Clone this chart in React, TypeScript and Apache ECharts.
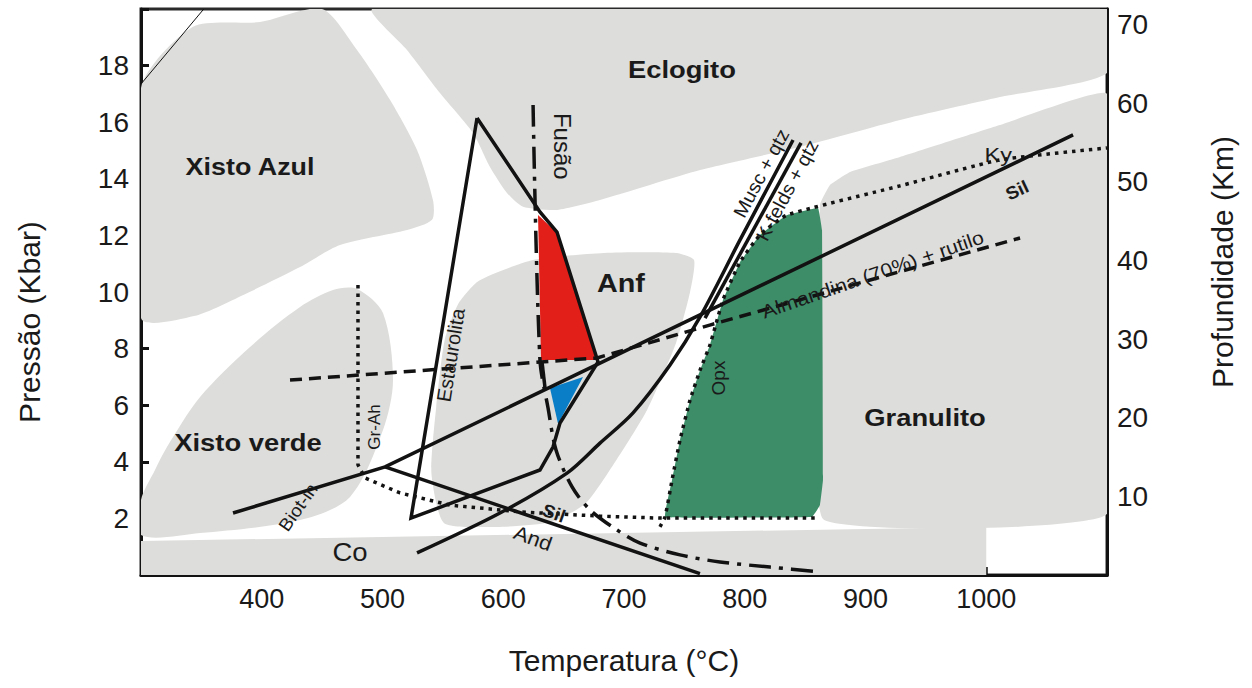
import React, { useEffect, useRef } from 'react';
import * as echarts from 'echarts';

type Pt = [number, number];

// Axis ranges
const T_MIN = 300, T_MAX = 1100, P_MAX = 20, KM_MAX = 72;

// Grey facies fields (T °C, P kbar)
const xistoAzulField: Pt[] = [
  [300, 17.21], [343.1, 19.37], [398.6, 19.54], [449.9, 20], [478.9, 18.55], [506.2, 16.79],
  [528.6, 15.02], [541.8, 13.25], [541.0, 12.55], [520.3, 12.19], [464.8, 11.66], [431.7, 10.88],
  [387.8, 9.96], [343.9, 9.15], [300, 9.08],
];
const eclogitoField: Pt[] = [
  [492.1, 20], [520.3, 18.55], [547.6, 17.03], [575.0, 15.62], [589.0, 14.42], [603.1, 13.5],
  [616.4, 13.01], [644.5, 12.9], [680.1, 13.25], [763.0, 14.31], [845.8, 15.13], [928.6, 16.08],
  [1011.4, 16.89], [1100, 17.74], [1100, 20],
];
const granulitoField: Pt[] = [
  [1100, 17.0], [1011.4, 15.9], [928.6, 14.77], [887.2, 14.24], [870.6, 13.78], [862.3, 13.08],
  [864.8, 1.98], [1100, 2.16],
];
const anfField: Pt[] = [
  [563.0, 9.6], [579.9, 10.4], [624.7, 11.13], [683.5, 11.38], [743.1, 11.38], [758.0, 11.13],
  [754.7, 10.0], [743.1, 8.2], [719.1, 5.83], [692.6, 3.99], [668.5, 2.54], [639.6, 1.87],
  [594.8, 1.7], [550.9, 1.84], [540.5, 3.6], [544.5, 5.94], [551.5, 8.3],
];
const xistoVerdeField: Pt[] = [
  [459.0, 10.07], [478.9, 10.11], [500.4, 9.26], [508.7, 6.89], [500.4, 5.12], [473.1, 2.76],
  [431.7, 1.94], [348.9, 1.48], [300, 1.41], [300, 2.65], [311.6, 3.71], [321.5, 4.52],
  [348.9, 6.29], [390.3, 8.06], [431.7, 9.47],
];
const contatoField: Pt[] = [[300, 1.2], [1000, 1.7], [1000, 0], [300, 0]];

// Coloured fields
const opxField: Pt[] = [
  [734.0, 2.05], [739.8, 3.36], [746.4, 4.77], [754.7, 6.18], [763.0, 7.24], [771.2, 8.13],
  [782.0, 9.72], [796.1, 11.06], [812.7, 12.02], [835.0, 12.72], [860.7, 12.97], [864.0, 12.19],
  [864.8, 3.36], [862.3, 2.47], [855.7, 2.05],
];
const redField: Pt[] = [[628.8, 12.72], [644.5, 12.09], [677.0, 7.6], [631.3, 7.6]];
const blueField: Pt[] = [[638.7, 6.61], [666.1, 7.0], [645.4, 5.34]];

// Solid reaction curves
const estaurolita: Pt[] = [
  [578.3, 16.15], [630.4, 12.83], [644.5, 12.12], [678.5, 7.53], [647.0, 5.37], [641.2, 4.52],
  [630.4, 3.71], [523.6, 2.01], [578.3, 16.15],
];
const redBase: Pt[] = [[632.1, 7.53], [634.6, 6.61]];
const kySilLine: Pt[] = [[376.2, 2.19], [502.1, 3.82], [1071.9, 15.55]];
const andSilLine: Pt[] = [[502.1, 3.82], [762.9, 0.05]];
const muscQtz: Pt[] = [
  [528.6, 0.78], [597.3, 2.19], [652.8, 3.6], [680.1, 4.66], [707.5, 5.73], [738.1, 7.42],
  [763.0, 9.12], [796.1, 11.84], [840.0, 15.37],
];
const kfeldsQtz: Pt[] = [[767.1, 9.08], [846.6, 15.27]];
const cornerLine: Pt[] = [[300, 17.35], [352, 20]];

// Dashed / dotted / dash-dot curves
const almandina: Pt[] = [[423.4, 6.89], [677.7, 7.67], [771.7, 8.84], [1028.0, 11.91]];
const grAhSil: Pt[] = [
  [479.7, 10.25], [479.7, 3.89], [485.5, 3.43], [514.5, 2.9], [555.9, 2.47], [613.9, 2.23],
  [680.1, 2.08], [729.8, 2.01], [860.7, 2.01],
];
const opxKy: Pt[] = [
  [729.8, 1.7], [734.0, 2.05], [739.8, 3.36], [746.4, 4.77], [754.7, 6.18], [763.0, 7.24],
  [771.2, 8.13], [782.0, 9.72], [796.1, 11.06], [812.7, 12.02], [835.0, 12.72], [928.6, 13.75],
  [1011.4, 14.67], [1100, 15.09],
];
const fusao: Pt[] = [
  [624.7, 16.61], [630.4, 7.6], [637.1, 5.9], [643.7, 4.42], [657.0, 3.11], [671.9, 2.3],
  [694.2, 1.59], [713.3, 1.13], [746.4, 0.71], [779.5, 0.46], [820.9, 0.28], [862.3, 0.11],
];

// Labels: text, T, P, rotation (deg), font size, bold, horizontal stretch
const labelTexts = ['Eclogito', 'Xisto Azul', 'Anf', 'Xisto verde', 'Granulito', 'Fusão', 'Musc + qtz',
  'K-felds + qtz', 'Almandina (70%) + rutilo', 'Ky', 'Sil', 'Opx', 'Estaurolita', 'Gr-Ah', 'Biot-in',
  'Sil', 'And', 'Co'];
const labelT = [748, 390.3, 697.5, 388.6, 949.3, 648.7, 813.5, 835.0, 906, 1010, 1025.5, 778.5, 556.5,
  493.5, 430.0, 642.0, 624.7, 473.1];
const labelP = [17.85, 14.43, 10.28, 4.68, 5.55, 15.15, 14.2, 13.6, 10.62, 14.84, 13.6, 6.96, 7.77,
  5.23, 2.4, 2.19, 1.31, 0.81];
const labelRot = [0, 0, 0, 0, 0, -90, 62, 62, 19, 0, 25, 90, 81, 90, 55, -20, -20, 0];
const labelSize = [24, 24, 25, 24, 24, 24, 19, 19, 19, 21, 18, 19, 20, 17, 18, 18, 20, 25];
const labelBold = [1, 1, 1, 1, 1, 0, 0, 0, 0, 0, 1, 0, 0, 0, 0, 1, 0, 0];
const labelStretch = [1.14, 1.12, 1.15, 1.14, 1.14, 1, 1.05, 1.05, 1.12, 1.12, 1.05, 1, 1, 1, 1.05, 1.05, 1.1, 1.1];

const FONT = "'Liberation Sans', Arial, Helvetica, sans-serif";
const NARROW = "'Liberation Sans Narrow', 'Arial Narrow', 'Liberation Sans', Arial, sans-serif";
const GREY = '#dddddb';
const INK = '#121212';
const TEXT = '#1a1a1a';

function polySeries(pts: Pt[], color: string, z: number, smooth: number) {
  return {
    type: 'custom',
    coordinateSystem: 'cartesian2d',
    silent: true,
    z,
    clip: true,
    data: [[700, 10]],
    renderItem: (_params: any, api: any) => ({
      type: 'polygon',
      shape: { points: pts.map((p) => api.coord(p)), smooth },
      style: { fill: color, stroke: null },
    }),
  };
}

function lineSeries(pts: Pt[], type: any, width = 3.5, smooth: number | boolean = false, z = 4) {
  return {
    type: 'line',
    data: pts,
    showSymbol: false,
    symbol: 'none',
    smooth,
    silent: true,
    z,
    lineStyle: { color: INK, width, type, cap: 'butt', join: 'miter' },
  };
}

const labelSeries = {
  type: 'custom',
  coordinateSystem: 'cartesian2d',
  silent: true,
  z: 10,
  clip: false,
  data: labelTexts.map((_, i) => [labelT[i], labelP[i]]),
  renderItem: (params: any, api: any) => {
    const i = params.dataIndex;
    const [x, y] = api.coord([labelT[i], labelP[i]]);
    return {
      type: 'text',
      x,
      y,
      scaleX: labelStretch[i],
      rotation: (labelRot[i] * Math.PI) / 180,
      style: {
        text: labelTexts[i],
        fontSize: labelSize[i],
        fontWeight: labelBold[i] ? 'bold' : 'normal',
        fontFamily: FONT,
        fill: TEXT,
        align: 'center',
        verticalAlign: 'middle',
      },
    };
  },
};

export default function App() {
  const ref = useRef<HTMLDivElement>(null);
  useEffect(() => {
    const chart = echarts.init(ref.current as HTMLDivElement, null, { renderer: 'svg' });
    const dotted = [3.5, 5];
    const dashed = [12, 7];
    const dashDot = [22, 8, 4, 8];
    chart.setOption({
      animation: false,
      backgroundColor: '#ffffff',
      textStyle: { fontFamily: FONT },
      grid: {
        left: 141, right: 145, top: 9, bottom: 113,
        show: true, borderColor: '#2a2a2a', borderWidth: 3, backgroundColor: '#ffffff',
      },
      graphic: [
        {
          type: 'text', x: 29, y: 322, rotation: Math.PI / 2,
          style: { text: 'Pressão (Kbar)', fontSize: 30, fontFamily: FONT, fill: TEXT, align: 'center', verticalAlign: 'middle' },
        },
        {
          type: 'text', x: 1222, y: 262, rotation: Math.PI / 2,
          style: { text: 'Profundidade (Km)', fontSize: 30, fontFamily: FONT, fill: TEXT, align: 'center', verticalAlign: 'middle' },
        },
        {
          type: 'text', x: 624, y: 660,
          style: { text: 'Temperatura (°C)', fontSize: 30, fontFamily: NARROW, fill: TEXT, align: 'center', verticalAlign: 'middle' },
        },
      ],
      xAxis: {
        type: 'value', min: T_MIN, max: T_MAX, interval: 100,
        axisLine: { onZero: false, lineStyle: { color: INK, width: 3 } },
        axisTick: { inside: true, length: 8, lineStyle: { color: INK, width: 2.5 } },
        axisLabel: {
          fontSize: 27, color: TEXT, margin: 10, fontFamily: NARROW,
          formatter: (v: number) => (v >= 400 && v <= 1000 ? String(v) : ''),
        },
        splitLine: { show: false },
      },
      yAxis: [
        {
          type: 'value', min: 0, max: P_MAX, interval: 2, position: 'left',
          axisLine: { show: true, onZero: false, lineStyle: { color: INK, width: 3 } },
          axisTick: { show: true, inside: true, length: 8, lineStyle: { color: INK, width: 3 } },
          axisLabel: {
            fontSize: 28, color: TEXT, margin: 12, fontFamily: FONT,
            formatter: (v: number) => (v >= 2 && v <= 18 ? String(v) : ''),
          },
          splitLine: { show: false },
        },
        {
          type: 'value', min: 0, max: KM_MAX, interval: 10, position: 'right',
          axisLine: { show: true, onZero: false, lineStyle: { color: INK, width: 3 } },
          axisTick: { show: true, inside: true, length: 7, lineStyle: { color: INK, width: 3 } },
          axisLabel: {
            fontSize: 28, color: TEXT, margin: 10, fontFamily: FONT,
            formatter: (v: number) => (v >= 10 && v <= 70 ? String(v) : ''),
          },
          splitLine: { show: false },
        },
      ],
      series: [
        polySeries(xistoAzulField, GREY, 1, 0.25),
        polySeries(eclogitoField, GREY, 1, 0.2),
        polySeries(granulitoField, GREY, 1, 0.1),
        polySeries(anfField, GREY, 1, 0.2),
        polySeries(xistoVerdeField, GREY, 1, 0.3),
        polySeries(contatoField, GREY, 1, 0),
        polySeries(opxField, '#3e8d69', 2, 0.05),
        polySeries(redField, '#e31f1a', 2, 0),
        polySeries(blueField, '#0a7ec6', 2, 0),
        lineSeries(cornerLine, 'solid', 1),
        lineSeries(estaurolita, 'solid'),
        lineSeries(redBase, 'solid'),
        lineSeries(kySilLine, 'solid'),
        lineSeries(andSilLine, 'solid'),
        lineSeries(muscQtz, 'solid', 3.5, 0.3),
        lineSeries(kfeldsQtz, 'solid'),
        lineSeries(almandina, dashed),
        lineSeries(grAhSil, dotted, 3.5),
        lineSeries(opxKy, dotted, 3.5, 0.15),
        lineSeries(fusao, dashDot, 3.5, 0.3),
        labelSeries,
      ],
    });
    return () => chart.dispose();
  }, []);
  return (
    <div
      ref={ref}
      style={{ position: 'fixed', left: 0, top: 0, width: 1252, height: 688, background: '#ffffff' }}
    />
  );
}
